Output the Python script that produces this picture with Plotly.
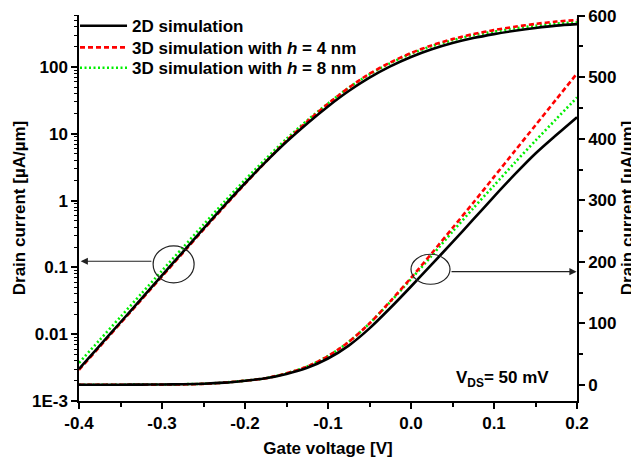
import plotly.graph_objects as go
import math

# ---------------- data ----------------
gate_voltage = [-0.400, -0.375, -0.350, -0.325, -0.300, -0.275, -0.250, -0.225, -0.200,
                -0.175, -0.150, -0.125, -0.100, -0.075, -0.050, -0.025, 0.000, 0.025,
                0.050, 0.075, 0.100, 0.125, 0.150, 0.175, 0.200]

# Curves on the logarithmic (left) axis, µA/µm
log_2d = [0.00302, 0.00676, 0.0151, 0.0339, 0.0759, 0.170, 0.380, 0.841, 1.82,
          3.80, 7.59, 14.3, 25.7, 43.7, 69.2, 102, 141, 184,
          228, 271, 311, 349, 385, 417, 439]
log_3d_h4 = [0.00292, 0.00653, 0.0146, 0.0327, 0.0733, 0.164, 0.367, 0.812, 1.78,
             3.80, 7.86, 15.3, 28.2, 49.0, 79.4, 117, 162, 211,
             262, 311, 357, 401, 442, 479, 506]
log_3d_h8 = [0.00372, 0.00822, 0.0182, 0.0403, 0.0892, 0.197, 0.436, 0.955, 2.04,
             4.21, 8.42, 15.9, 28.5, 49.0, 77.6, 114, 158, 205,
             252, 298, 339, 378, 414, 447, 467]

# Curves on the linear (right) axis, µA/µm
lin_2d = [0.5, 0.5, 0.5, 0.6, 0.8, 1.2, 2.0, 3.8, 7,
          11, 18, 28, 43, 64, 92, 125, 160, 196,
          232, 269, 306, 342, 376, 406, 435]
lin_3d_h4 = [0.3, 0.3, 0.3, 0.4, 0.6, 1.0, 1.8, 3.8, 7,
             11, 19, 30, 47, 70, 100, 136, 174, 214,
             255, 296, 338, 380, 422, 464, 506]
lin_3d_h8 = [0.5, 0.5, 0.5, 0.6, 0.8, 1.2, 2.0, 3.9, 7,
             11, 19, 30, 47, 70, 100, 135, 172, 210,
             249, 287, 324, 361, 397, 432, 467]

series_names = ["2D simulation",
                "3D simulation with <i>h</i> = 4 nm",
                "3D simulation with <i>h</i> = 8 nm"]

x_tickvals = [-0.4, -0.3, -0.2, -0.1, 0.0, 0.1, 0.2]
x_ticktext = ["-0.4", "-0.3", "-0.2", "-0.1", "0.0", "0.1", "0.2"]
left_tickvals = [0.001, 0.01, 0.1, 1, 10, 100]
left_ticktext = ["1E-3", "0.01", "0.1", "1", "10", "100"]
right_tickvals = [0, 100, 200, 300, 400, 500, 600]

# ---------------- figure ----------------
FONT = "Liberation Sans, Arial, sans-serif"
FS = 17
styles = [
    dict(color="#000000", width=2.6, dash="solid"),
    dict(color="#FF0000", width=2.6, dash="5px,3px"),
    dict(color="#00EE00", width=2.6, dash="2px,2.5px"),
]
log_sets = [log_2d, log_3d_h4, log_3d_h8]
lin_sets = [lin_2d, lin_3d_h4, lin_3d_h8]
legend_ids = ["legend", "legend2", "legend3"]
legend_rows = [0.971, 0.915, 0.862]   # vertical position of each legend row (paper)

fig = go.Figure()
# draw order: green, red, black (black on top)
for i in [2, 1, 0]:
    fig.add_trace(go.Scatter(
        x=gate_voltage, y=log_sets[i], mode="lines", name=series_names[i],
        line=dict(**styles[i], shape="spline", smoothing=0.8),
        legendgroup=str(i), legend=legend_ids[i], yaxis="y"))
    fig.add_trace(go.Scatter(
        x=gate_voltage, y=lin_sets[i], mode="lines", name=series_names[i],
        line=dict(**styles[i], shape="spline", smoothing=0.8),
        legendgroup=str(i), showlegend=False, legend=legend_ids[i], yaxis="y2"))

tickfont = dict(family=FONT, size=FS, color="black", weight="bold")
titlefont = dict(family=FONT, size=FS, color="black", weight="bold")

legend_style = dict(x=-0.008, xanchor="left", yanchor="middle",
                    bgcolor="rgba(0,0,0,0)", borderwidth=0,
                    font=dict(family=FONT, size=FS, color="black", weight="bold"),
                    itemwidth=47, tracegroupgap=0)

# the page body adds an 8 px offset, so the figure is 8 px smaller than the window
fig.update_layout(
    width=631, height=454,
    margin=dict(l=71, r=62, t=7, b=61, autoexpand=False),
    plot_bgcolor="white", paper_bgcolor="white",
    font=dict(family=FONT, size=FS, color="black"),
    showlegend=True,
    legend=dict(y=legend_rows[0], **legend_style),
    legend2=dict(y=legend_rows[1], **legend_style),
    legend3=dict(y=legend_rows[2], **legend_style),
    xaxis=dict(
        range=[-0.4, 0.2], tickmode="array", tickvals=x_tickvals, ticktext=x_ticktext,
        ticks="outside", ticklen=6, tickwidth=1.5, tickcolor="black",
        showline=True, linecolor="black", linewidth=1.5, mirror=False,
        showgrid=False, zeroline=False, tickfont=tickfont, automargin=True,
        ticklabeloverflow="allow",
        minor=dict(ticks="outside", ticklen=4, tickwidth=1.5, dtick=0.05,
                   tick0=0, tickcolor="black", showgrid=False),
        title=dict(text="Gate voltage [V]", font=titlefont, standoff=10),
    ),
    yaxis=dict(
        type="log", range=[-3, math.log10(601)],
        tickmode="array", tickvals=left_tickvals, ticktext=left_ticktext,
        ticks="outside", ticklen=6, tickwidth=1.5, tickcolor="black",
        showline=True, linecolor="black", linewidth=1.5, automargin=True,
        ticklabeloverflow="allow",
        showgrid=False, zeroline=False, tickfont=tickfont,
        minor=dict(ticks="outside", ticklen=3, tickwidth=1, dtick="D1",
                   tickcolor="black", showgrid=False),
        title=dict(text="Drain current [µA/µm]", font=titlefont, standoff=2),
    ),
    yaxis2=dict(
        overlaying="y", side="right", anchor="x",
        range=[-26, 601], tickmode="array", tickvals=right_tickvals,
        ticks="outside", ticklen=6, tickwidth=1.5, tickcolor="black",
        showline=True, linecolor="black", linewidth=1.5, automargin=True,
        ticklabeloverflow="allow",
        showgrid=False, zeroline=False, tickfont=tickfont,
        minor=dict(ticks="outside", ticklen=4, tickwidth=1.5, dtick=50,
                   tick0=0, tickcolor="black", showgrid=False),
        title=dict(text="Drain current [µA/µm]", font=titlefont, standoff=6),
    ),
)

# circles marking the two families of curves
fig.add_shape(type="circle", xref="x", yref="y2", xsizemode="pixel", ysizemode="pixel",
              xanchor=-0.286, yanchor=196, x0=-20.5, x1=20.5, y0=-18.5, y1=18.5,
              line=dict(color="#222222", width=1.2))
fig.add_shape(type="circle", xref="x", yref="y2", xsizemode="pixel", ysizemode="pixel",
              xanchor=0.0235, yanchor=188, x0=-19.5, x1=19.5, y0=-15, y1=15,
              line=dict(color="#222222", width=1.2))

# arrows pointing to the corresponding axes
fig.add_annotation(x=-0.398, y=201, xref="x", yref="y2",
                   ax=-0.311, ay=201, axref="x", ayref="y2",
                   text="", showarrow=True, arrowhead=2, arrowsize=1.2,
                   arrowwidth=1.2, arrowcolor="#222222", standoff=0, startstandoff=0)
fig.add_annotation(x=0.1995, y=184, xref="x", yref="y2",
                   ax=0.047, ay=184, axref="x", ayref="y2",
                   text="", showarrow=True, arrowhead=2, arrowsize=1.2,
                   arrowwidth=1.2, arrowcolor="#222222", standoff=0, startstandoff=0)

fig.add_annotation(x=0.11, y=10, xref="x", yref="y2",
                   text="V<sub>DS</sub>= 50 mV", showarrow=False,
                   font=dict(family=FONT, size=FS, color="black", weight="bold"),
                   xanchor="center", yanchor="middle")

fig.write_html("out.html")
